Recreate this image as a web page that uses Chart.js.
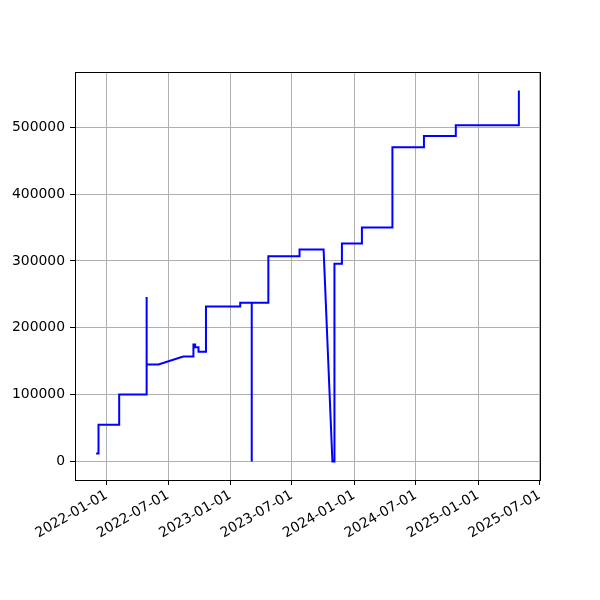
<!DOCTYPE html>
<html>
<head>
<meta charset="utf-8">
<script src="https://cdn.jsdelivr.net/npm/chart.js@4.4.1/dist/chart.umd.min.js"></script>
<style>
    html, body { margin: 0; padding: 0; background: #ffffff; }
    #wrap { width: 600px; height: 600px; }
</style>
</head>
<body>
<div id="wrap"><canvas id="chart" width="600" height="600"></canvas></div>
<script>
// --- Données ---
const dates = [
    '2021-12-01', '2021-12-08', '2021-12-08', '2022-02-07', '2022-02-07',
    '2022-04-29', '2022-04-29', '2022-04-29', '2022-06-03', '2022-08-15',
    '2022-09-14', '2022-09-14', '2022-09-19', '2022-09-19', '2022-09-29',
    '2022-09-29', '2022-10-21', '2022-10-21', '2023-01-30', '2023-01-30',
    '2023-03-05', '2023-03-05', '2023-03-05', '2023-04-23', '2023-04-23',
    '2023-07-24', '2023-07-24', '2023-10-03', '2023-10-29', '2023-11-04',
    '2023-11-04', '2023-11-26', '2023-11-26', '2024-01-24', '2024-01-24',
    '2024-04-23', '2024-04-23', '2024-07-25', '2024-07-25', '2024-10-27',
    '2024-10-27', '2025-05-01', '2025-05-01'
];
const values = [
    12000, 12000, 55000, 55000, 100000,
    100000, 246000, 145000, 145000, 157000,
    157000, 175000, 175000, 171000, 171000,
    164000, 164000, 232000, 232000, 237500,
    237500, 0, 237500, 237500, 307000,
    307000, 317000, 317000, 0, 0,
    296000, 296000, 326000, 326000, 350000,
    350000, 470000, 470000, 487000, 487000,
    503000, 503000, 555000
];
const xTickLabels = [
    '2022-01-01', '2022-07-01', '2023-01-01', '2023-07-01',
    '2024-01-01', '2024-07-01', '2025-01-01', '2025-07-01'
];
const yTickValues = [0, 100000, 200000, 300000, 400000, 500000];

const toMs = s => new Date(s + 'T00:00:00Z').getTime();
const fmtDate = v => new Date(v).toISOString().slice(0, 10);

const points = dates.map((d, i) => ({ x: toMs(d), y: values[i] }));

// marges de 5 % comme matplotlib
const xs = points.map(p => p.x);
const ys = points.map(p => p.y);
const xMin = Math.min(...xs), xMax = Math.max(...xs);
const yMin = Math.min(...ys), yMax = Math.max(...ys);
const xPad = (xMax - xMin) * 0.05;
const yPad = (yMax - yMin) * 0.05;

const FONT = { family: '"DejaVu Sans", sans-serif', size: 13.9 };

// cadre complet autour de la zone de tracé
const framePlugin = {
    id: 'frame',
    afterDraw(chart) {
        const { ctx, chartArea: a } = chart;
        ctx.save();
        ctx.strokeStyle = '#000000';
        ctx.lineWidth = 1;
        ctx.strokeRect(Math.round(a.left) + 0.5, Math.round(a.top) + 0.5,
            Math.round(a.right - a.left), Math.round(a.bottom - a.top));
        ctx.restore();
    }
};

new Chart(document.getElementById('chart'), {
    type: 'line',
    data: {
        datasets: [{
            data: points,
            borderColor: '#0000ff',
            borderWidth: 2,
            pointRadius: 0,
            tension: 0,
            fill: false
        }]
    },
    options: {
        responsive: false,
        animation: false,
        devicePixelRatio: 1,
        layout: { padding: { top: 72, right: 60, left: 0, bottom: 0 } },
        plugins: {
            legend: { display: false },
            tooltip: { enabled: false }
        },
        scales: {
            x: {
                type: 'linear',
                min: xMin - xPad,
                max: xMax + xPad,
                afterBuildTicks: scale => {
                    scale.ticks = xTickLabels.map(s => ({ value: toMs(s) }));
                },
                afterFit: scale => { scale.height = 120; },
                ticks: {
                    autoSkip: false,
                    minRotation: 30,
                    maxRotation: 30,
                    padding: 2,
                    color: '#000000',
                    font: FONT,
                    callback: v => fmtDate(v)
                },
                grid: {
                    color: '#b0b0b0',
                    lineWidth: 1,
                    tickLength: 5,
                    tickColor: '#000000'
                },
                border: { color: '#000000', width: 1 }
            },
            y: {
                type: 'linear',
                min: yMin - yPad,
                max: yMax + yPad,
                afterBuildTicks: scale => {
                    scale.ticks = yTickValues.map(v => ({ value: v }));
                },
                afterFit: scale => { scale.width = 75; },
                ticks: {
                    padding: 5,
                    color: '#000000',
                    font: FONT,
                    callback: v => String(v)
                },
                grid: {
                    color: '#b0b0b0',
                    lineWidth: 1,
                    tickLength: 5,
                    tickColor: '#000000'
                },
                border: { color: '#000000', width: 1 }
            }
        }
    },
    plugins: [framePlugin]
});
</script>
</body>
</html>
